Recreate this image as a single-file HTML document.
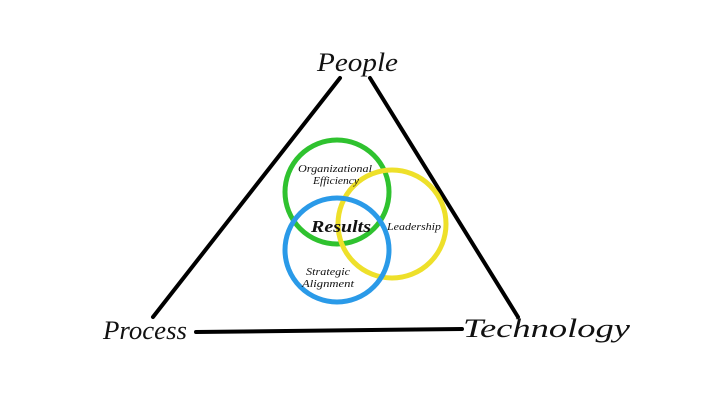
<!DOCTYPE html>
<html><head><style>body{margin:0;background:#fff}</style></head><body>
<svg width="720" height="400" xmlns="http://www.w3.org/2000/svg">
<rect width="720" height="400" fill="#fff"/>
<g stroke="#000" stroke-width="4" stroke-linecap="round">
<line x1="340" y1="78" x2="153" y2="317"/>
<line x1="370" y1="78" x2="518" y2="317"/>
<line x1="196" y1="332" x2="462" y2="329"/>
</g>
<g fill="none" stroke-width="5">
<circle cx="337" cy="192" r="52" stroke="#2fc22f"/>
<circle cx="392" cy="224" r="54" stroke="#eee02a"/>
<circle cx="337" cy="250" r="52" stroke="#2a9ae8"/>
</g>
<g font-family="'Liberation Serif',serif" font-style="italic" fill="#111">
<text x="317" y="71" font-size="26" textLength="81" lengthAdjust="spacingAndGlyphs">People</text>
<text x="103" y="339" font-size="26" textLength="84" lengthAdjust="spacingAndGlyphs">Process</text>
<text x="463" y="337" font-size="26" textLength="167" lengthAdjust="spacingAndGlyphs">Technology</text>
<text x="298" y="172" font-size="11" textLength="74" lengthAdjust="spacingAndGlyphs">Organizational</text>
<text x="313" y="184" font-size="11" textLength="46" lengthAdjust="spacingAndGlyphs">Efficiency</text>
<text x="311" y="232" font-size="17" font-weight="bold" textLength="60" lengthAdjust="spacingAndGlyphs">Results</text>
<text x="387" y="230" font-size="11" textLength="54" lengthAdjust="spacingAndGlyphs">Leadership</text>
<text x="306" y="275" font-size="11" textLength="44" lengthAdjust="spacingAndGlyphs">Strategic</text>
<text x="302" y="287" font-size="11" textLength="52" lengthAdjust="spacingAndGlyphs">Alignment</text>
</g>
</svg>
</body></html>
